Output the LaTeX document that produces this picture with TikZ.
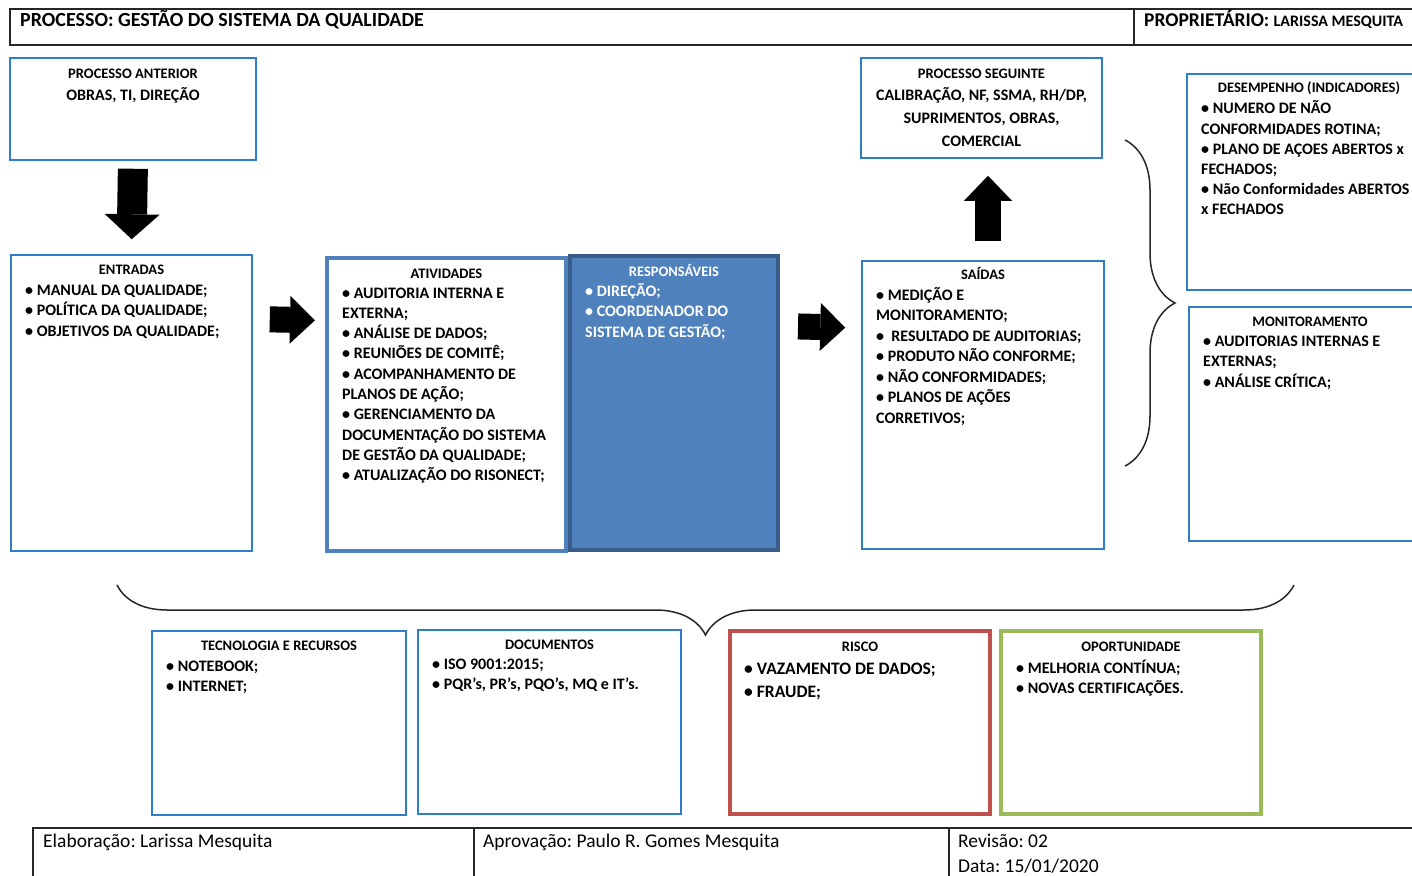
\documentclass[tikz,border=0pt]{standalone}
\usepackage{fontspec}
\setmainfont{Carlito}
\frenchspacing
\usetikzlibrary{arrows.meta,decorations.pathreplacing}
\definecolor{boxblue}{RGB}{46,125,200}
\definecolor{actblue}{RGB}{79,129,189}
\definecolor{respedge}{RGB}{56,93,138}
\definecolor{riskred}{RGB}{192,80,77}
\definecolor{chancegreen}{RGB}{155,187,89}

\begin{document}
\begin{tikzpicture}[x=1pt, y=1pt,
  thinbox/.style={draw=boxblue, line width=1.5pt, inner sep=0pt},
  thickbox/.style={line width=4pt, inner sep=0pt},
  boxtitle/.style={anchor=base, inner sep=0pt, font=\bfseries\fontsize{14.5}{16}\selectfont},
  itemlist/.style={anchor=north west, inner sep=0pt, align=left, yshift=14.35pt,
    font=\bfseries\fontsize{16}{20.5}\selectfont},
  blockarrow/.style={line width=26pt, -{Triangle[length=25pt, width=48pt, line width=0pt]}},
  bracket/.style={decorate, decoration={brace, amplitude=50pt}, line width=1.5pt, draw=black!85},
  footlabel/.style={anchor=base west, inner sep=0pt, font=\fontsize{19.5}{22}\selectfont}
]
  \useasboundingbox (0,0) rectangle (1412,-875);
  \clip (0,0) rectangle (1412,-875);

  % Header
  \draw[line width=1.8pt, black!85] (10,-9) rectangle (1430,-45);
  \draw[line width=1.8pt, black!85] (1134,-9) -- (1134,-45);
  \node[anchor=base west, inner sep=0pt, font=\bfseries\fontsize{20}{22}\selectfont] (proctitle)
    at (20,-27) {PROCESSO: GESTÃO DO SISTEMA DA QUALIDADE};
  \node[anchor=base west, inner sep=0pt, font=\bfseries\fontsize{19.5}{22}\selectfont] (owner)
    at (1144,-27) {PROPRIETÁRIO: {\fontsize{16}{18}\selectfont LARISSA MESQUITA}};

  % Boxes
  \node[thinbox, minimum width=246, minimum height=102] (anterior) at (133,-109) {};
  \node[thinbox, minimum width=241, minimum height=296] (entradas) at (131.5,-403) {};
  \node[thickbox, draw=actblue, minimum width=239, minimum height=293] (atividades) at (446.5,-404.5) {};
  \node[thickbox, draw=respedge, fill=actblue, minimum width=208, minimum height=294] (responsaveis) at (674,-403) {};
  \node[thinbox, minimum width=242, minimum height=288] (saidas) at (983,-405) {};
  \node[thinbox, minimum width=241, minimum height=100] (seguinte) at (981.5,-108) {};
  \node[thinbox, minimum width=240, minimum height=216] (desempenho) at (1307,-182) {};
  \node[thinbox, minimum width=240, minimum height=234] (monitoramento) at (1309,-424) {};
  \node[thinbox, minimum width=254, minimum height=184] (tecnologia) at (279,-723) {};
  \node[thinbox, minimum width=263, minimum height=184] (documentos) at (549.5,-722) {};
  \node[thickbox, draw=riskred, minimum width=260, minimum height=183] (risco) at (860,-722.5) {};
  \node[thickbox, draw=chancegreen, minimum width=260, minimum height=183] (oportunidade) at (1131,-722.5) {};

  % Texts
  \node[boxtitle] (anteriortitle) at (133,-78) {PROCESSO ANTERIOR};
  \node[anchor=base, inner sep=0pt, font=\bfseries\fontsize{16}{20.5}\selectfont] (anteriortext)
    at (133,-100) {OBRAS, TI, DIREÇÃO};

  \node[boxtitle] (entradastitle) at (131.5,-274) {ENTRADAS};
  \node[itemlist] (entradastext) at (25,-295) {\strut• MANUAL DA QUALIDADE;\\
    • POLÍTICA DA QUALIDADE;\\ • OBJETIVOS DA QUALIDADE;};

  \node[boxtitle] (atividadestitle) at (446.5,-278) {ATIVIDADES};
  \node[itemlist, font=\bfseries\fontsize{16}{20.3}\selectfont] (atividadestext) at (342,-298)
    {\strut• AUDITORIA INTERNA E\\ EXTERNA;\\ • ANÁLISE DE DADOS;\\ • REUNIÕES DE COMITÊ;\\
    • ACOMPANHAMENTO DE\\ PLANOS DE AÇÃO;\\ • GERENCIAMENTO DA\\ DOCUMENTAÇÃO DO SISTEMA\\
    DE GESTÃO DA QUALIDADE;\\ • ATUALIZAÇÃO DO RISONECT;};

  \node[boxtitle, text=white] (responsaveistitle) at (674,-276) {RESPONSÁVEIS};
  \node[itemlist, text=white] (responsaveistext) at (585,-296)
    {\strut• DIREÇÃO;\\ • COORDENADOR DO\\ SISTEMA DE GESTÃO;};

  \node[boxtitle] (saidastitle) at (983,-279) {SAÍDAS};
  \node[itemlist] (saidastext) at (876,-300)
    {\strut• MEDIÇÃO E\\ MONITORAMENTO;\\ •\ \ RESULTADO DE AUDITORIAS;\\ • PRODUTO NÃO CONFORME;\\
    • NÃO CONFORMIDADES;\\ • PLANOS DE AÇÕES\\ CORRETIVOS;};

  \node[boxtitle] (seguintetitle) at (981.5,-78) {PROCESSO SEGUINTE};
  \node[itemlist, anchor=north, align=center, font=\bfseries\fontsize{16}{23}\selectfont,
    yshift=1.75pt] (seguintetext) at (981.5,-100)
    {\strut CALIBRAÇÃO, NF, SSMA, RH/DP,\\ SUPRIMENTOS, OBRAS,\\ COMERCIAL};

  \node[boxtitle] (desempenhotitle) at (1309,-92) {DESEMPENHO (INDICADORES)};
  \node[itemlist, font=\bfseries\fontsize{16}{20.2}\selectfont] (desempenhotext) at (1201,-114)
    {\strut• NUMERO DE NÃO\\ CONFORMIDADES ROTINA;\\ • PLANO DE AÇOES ABERTOS x\\ FECHADOS;\\
    • Não Conformidades ABERTOS\\ x FECHADOS};

  \node[boxtitle] (monitoramentotitle) at (1310,-326) {MONITORAMENTO};
  \node[itemlist] (monitoramentotext) at (1203,-346)
    {\strut• AUDITORIAS INTERNAS E\\ EXTERNAS;\\ • ANÁLISE CRÍTICA;};

  \node[boxtitle] (tecnologiatitle) at (279,-650) {TECNOLOGIA E RECURSOS};
  \node[itemlist, font=\bfseries\fontsize{16}{20}\selectfont] (tecnologiatext) at (166,-672)
    {\strut• NOTEBOOK;\\ • INTERNET;};

  \node[boxtitle] (documentostitle) at (549.5,-649) {DOCUMENTOS};
  \node[itemlist, font=\bfseries\fontsize{16}{20}\selectfont] (documentostext) at (432,-670)
    {\strut• ISO 9001:2015;\\ • PQR’s, PR’s, PQO’s, MQ e IT’s.};

  \node[boxtitle] (riscotitle) at (860,-651) {RISCO};
  \node[itemlist, font=\bfseries\fontsize{17.5}{23}\selectfont, yshift=1.75pt] (riscotext) at (744,-674)
    {\strut• VAZAMENTO DE DADOS;\\ • FRAUDE;};

  \node[boxtitle] (oportunidadetitle) at (1131,-651) {OPORTUNIDADE};
  \node[itemlist, font=\bfseries\fontsize{16}{20}\selectfont] (oportunidadetext) at (1016,-674)
    {\strut• MELHORIA CONTÍNUA;\\ • NOVAS CERTIFICAÇÕES.};

  % Block arrows
  \draw[blockarrow, line width=30pt, -{Triangle[length=25pt, width=55pt, line width=0pt]},
    shorten <=8pt, shorten >=15pt] (anterior.south) -- (entradas.north);
  \draw[blockarrow, shorten <=17pt, shorten >=10pt]
    ([yshift=84pt]entradas.east) -- ([yshift=84pt]atividades.west);
  \draw[blockarrow, shorten <=18pt, shorten >=16pt]
    ([yshift=77pt]responsaveis.east) -- ([yshift=77pt]saidas.west);
  \draw[blockarrow, shorten <=19pt, shorten >=17pt]
    ([xshift=5pt]saidas.north) -- ([xshift=6.5pt]seguinte.south);

  % Braces
  \coordinate (bracetop) at (1125,-140);
  \coordinate (bracebottom) at (1125,-466);
  \coordinate (braceright) at (1294,-585);
  \coordinate (braceleft) at (117,-585);
  \draw[bracket] (bracetop) -- (bracebottom);
  \draw[bracket] (braceright) -- (braceleft);

  % Footer
  \draw[line width=1.8pt, black!85] (33,-828) rectangle (1430,-890);
  \draw[line width=1.8pt, black!85] (474,-828) -- (474,-890);
  \draw[line width=1.8pt, black!85] (949,-828) -- (949,-890);
  \node[footlabel] (elaboracao) at (43,-847) {Elaboração: Larissa Mesquita};
  \node[footlabel] (aprovacao) at (483,-847) {Aprovação: Paulo R. Gomes Mesquita};
  \node[footlabel] (revisao) at (958,-847) {Revisão: 02};
  \node[footlabel] (data) at (958,-872) {Data: 15/01/2020};
\end{tikzpicture}
\end{document}
